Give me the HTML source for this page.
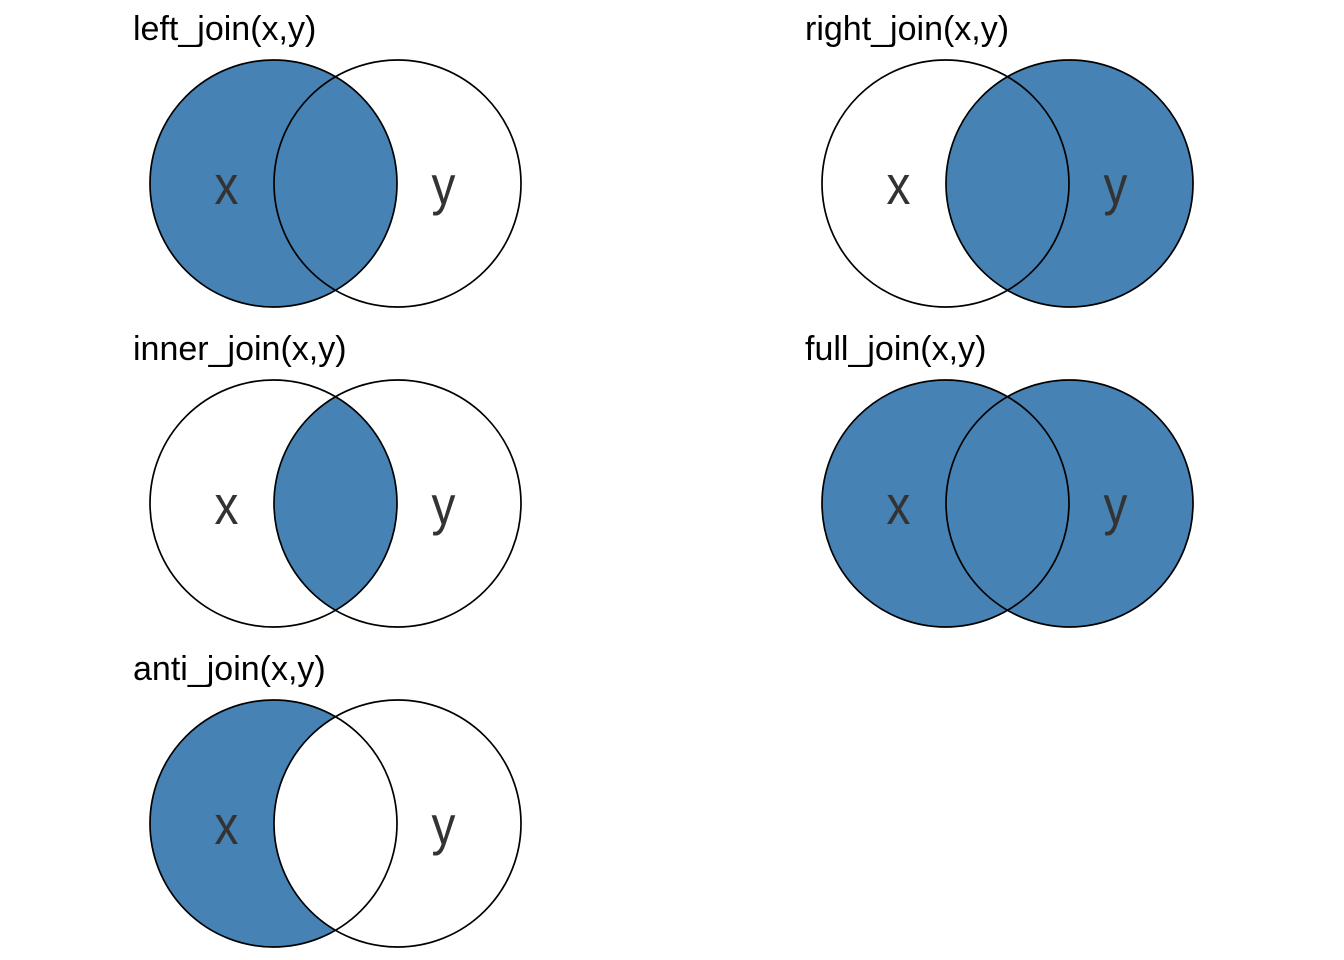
<!DOCTYPE html>
<html>
<head>
<meta charset="utf-8">
<style>
html,body{margin:0;padding:0;background:#fff;}
svg{display:block;}
.t{font-family:"Liberation Sans",Arial,sans-serif;font-size:34px;fill:#000;}
.l{font-family:"Liberation Sans",Arial,sans-serif;font-size:55px;fill:#333;text-anchor:middle;}
.c{fill:none;stroke:#000;stroke-width:1.7;}
</style>
</head>
<body>
<svg width="1344" height="960" viewBox="0 0 1344 960" xmlns="http://www.w3.org/2000/svg">
<defs>
  <clipPath id="clipX2"><circle cx="273.5" cy="503.5" r="123.5"/></clipPath>
  <mask id="antiMask" maskUnits="userSpaceOnUse" x="0" y="600" width="700" height="360">
    <rect x="0" y="600" width="700" height="360" fill="#000"/>
    <circle cx="273.5" cy="823.5" r="123.5" fill="#fff"/>
    <circle cx="397.5" cy="823.5" r="123.5" fill="#000"/>
  </mask>
</defs>

<!-- left_join -->
<text class="t" x="133" y="40">left_join(x,y)</text>
<circle cx="273.5" cy="183.5" r="123.5" fill="#4682B4"/>
<circle class="c" cx="273.5" cy="183.5" r="123.5"/>
<circle class="c" cx="397.5" cy="183.5" r="123.5"/>
<text class="l" transform="translate(226.5,204) scale(0.87,1)">x</text>
<text class="l" transform="translate(443.5,204) scale(0.87,1)">y</text>

<!-- right_join -->
<text class="t" x="805" y="40">right_join(x,y)</text>
<circle cx="1069.5" cy="183.5" r="123.5" fill="#4682B4"/>
<circle class="c" cx="945.5" cy="183.5" r="123.5"/>
<circle class="c" cx="1069.5" cy="183.5" r="123.5"/>
<text class="l" transform="translate(898.5,204) scale(0.87,1)">x</text>
<text class="l" transform="translate(1115.5,204) scale(0.87,1)">y</text>

<!-- inner_join -->
<text class="t" x="133" y="360">inner_join(x,y)</text>
<circle cx="397.5" cy="503.5" r="123.5" fill="#4682B4" clip-path="url(#clipX2)"/>
<circle class="c" cx="273.5" cy="503.5" r="123.5"/>
<circle class="c" cx="397.5" cy="503.5" r="123.5"/>
<text class="l" transform="translate(226.5,524) scale(0.87,1)">x</text>
<text class="l" transform="translate(443.5,524) scale(0.87,1)">y</text>

<!-- full_join -->
<text class="t" x="805" y="360">full_join(x,y)</text>
<circle cx="945.5" cy="503.5" r="123.5" fill="#4682B4"/>
<circle cx="1069.5" cy="503.5" r="123.5" fill="#4682B4"/>
<circle class="c" cx="945.5" cy="503.5" r="123.5"/>
<circle class="c" cx="1069.5" cy="503.5" r="123.5"/>
<text class="l" transform="translate(898.5,524) scale(0.87,1)">x</text>
<text class="l" transform="translate(1115.5,524) scale(0.87,1)">y</text>

<!-- anti_join -->
<text class="t" x="133" y="680">anti_join(x,y)</text>
<rect x="0" y="600" width="700" height="360" fill="#4682B4" mask="url(#antiMask)"/>
<circle class="c" cx="273.5" cy="823.5" r="123.5"/>
<circle class="c" cx="397.5" cy="823.5" r="123.5"/>
<text class="l" transform="translate(226.5,844) scale(0.87,1)">x</text>
<text class="l" transform="translate(443.5,844) scale(0.87,1)">y</text>
</svg>
</body>
</html>
